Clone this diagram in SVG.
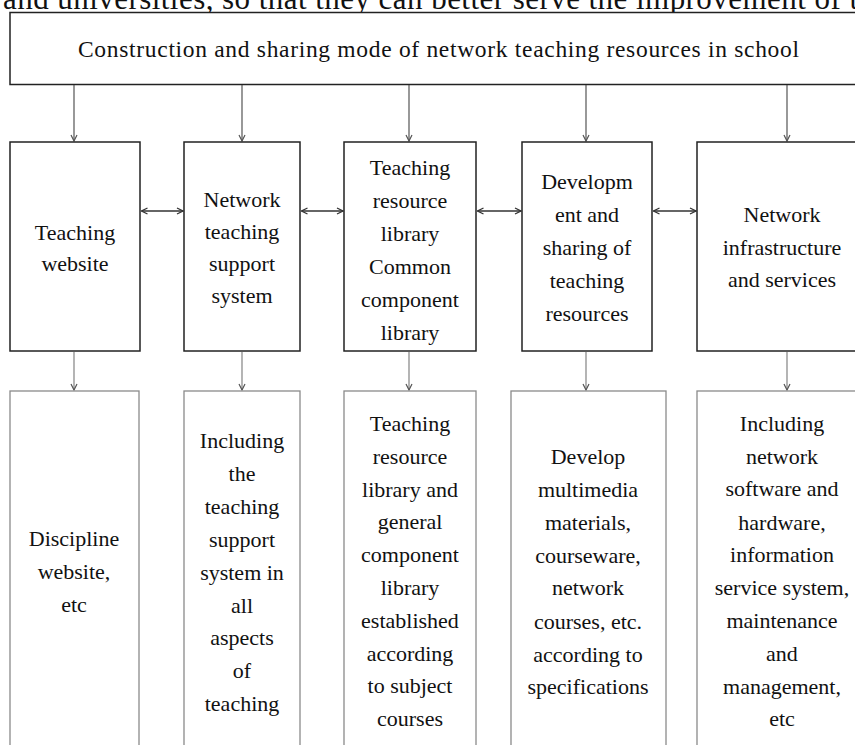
<svg xmlns="http://www.w3.org/2000/svg" width="855" height="745" viewBox="0 0 855 745">
<defs>
<style>
text{font-family:"Liberation Serif","Times New Roman",serif;font-size:22px;fill:#111;text-anchor:middle}
.top{fill:#fff;stroke:#222;stroke-width:1.5}
.mid{fill:#fff;stroke:#222;stroke-width:1.5}
.bot{fill:#fff;stroke:#8a8a8a;stroke-width:1.3}
.cd{fill:none;stroke:#444;stroke-width:1.1}
.cb{fill:none;stroke:#777;stroke-width:1.1}
.dd{fill:none;stroke:#333;stroke-width:1.3}
</style>
<marker id="ad" viewBox="0 0 8 8" refX="7.5" refY="4" markerWidth="8" markerHeight="8" orient="auto-start-reverse" markerUnits="userSpaceOnUse"><path d="M1.5,1 L7.5,4 L1.5,7" fill="none" stroke="#333" stroke-width="1.3"/></marker>
<marker id="ag" viewBox="0 0 8 8" refX="7.5" refY="4" markerWidth="8" markerHeight="8" orient="auto" markerUnits="userSpaceOnUse"><path d="M1.5,1 L7.5,4 L1.5,7" fill="none" stroke="#555" stroke-width="1.2"/></marker>
</defs>
<rect width="855" height="745" fill="#fff"/>
<text x="3" y="9" style="font-size:31px;text-anchor:start" textLength="855" lengthAdjust="spacing">and universities, so that they can better serve the improvement of t</text>

<g id="root">
<rect class="top" x="10" y="12.5" width="860" height="72"/>
<text x="78" y="57" style="font-size:23.5px;text-anchor:start" textLength="721" lengthAdjust="spacing">Construction  and sharing  mode of network teaching  resources in school</text>
</g>

<g id="connectors">
<line class="cd" x1="74" y1="85" x2="74" y2="141" marker-end="url(#ag)"/>
<line class="cd" x1="242" y1="85" x2="242" y2="141" marker-end="url(#ag)"/>
<line class="cd" x1="409" y1="85" x2="409" y2="141" marker-end="url(#ag)"/>
<line class="cd" x1="586" y1="85" x2="586" y2="141" marker-end="url(#ag)"/>
<line class="cd" x1="787" y1="85" x2="787" y2="141" marker-end="url(#ag)"/>
<line class="dd" x1="141.5" y1="211" x2="183" y2="211" marker-start="url(#ad)" marker-end="url(#ad)"/>
<line class="dd" x1="301.5" y1="211" x2="343" y2="211" marker-start="url(#ad)" marker-end="url(#ad)"/>
<line class="dd" x1="477.5" y1="211" x2="521" y2="211" marker-start="url(#ad)" marker-end="url(#ad)"/>
<line class="dd" x1="653.5" y1="211" x2="696" y2="211" marker-start="url(#ad)" marker-end="url(#ad)"/>
<line class="cb" x1="74" y1="352" x2="74" y2="390" marker-end="url(#ag)"/>
<line class="cb" x1="242" y1="352" x2="242" y2="390" marker-end="url(#ag)"/>
<line class="cb" x1="409" y1="352" x2="409" y2="390" marker-end="url(#ag)"/>
<line class="cb" x1="586" y1="352" x2="586" y2="390" marker-end="url(#ag)"/>
<line class="cb" x1="787" y1="352" x2="787" y2="390" marker-end="url(#ag)"/>
</g>

<g id="n1">
<rect class="mid" x="10" y="142" width="130" height="209"/>
<text x="75" y="240">Teaching</text>
<text x="75" y="271">website</text>
</g>
<g id="n2">
<rect class="mid" x="184" y="142" width="116" height="209"/>
<text x="242" y="207">Network</text>
<text x="242" y="239">teaching</text>
<text x="242" y="271">support</text>
<text x="242" y="303">system</text>
</g>
<g id="n3">
<rect class="mid" x="344" y="142" width="132" height="209"/>
<text x="410" y="175">Teaching</text>
<text x="410" y="208">resource</text>
<text x="410" y="241">library</text>
<text x="410" y="274">Common</text>
<text x="410" y="307">component</text>
<text x="410" y="340">library</text>
</g>
<g id="n4">
<rect class="mid" x="522" y="142" width="130" height="209"/>
<text x="587" y="189">Developm</text>
<text x="587" y="222">ent and</text>
<text x="587" y="255">sharing of</text>
<text x="587" y="288">teaching</text>
<text x="587" y="321">resources</text>
</g>
<g id="n5">
<rect class="mid" x="697" y="142" width="175" height="209"/>
<text x="782" y="222">Network</text>
<text x="782" y="255">infrastructure</text>
<text x="782" y="287">and services</text>
</g>

<g id="d1">
<rect class="bot" x="10" y="391" width="129" height="370"/>
<text x="74" y="546">Discipline</text>
<text x="74" y="579">website,</text>
<text x="74" y="612">etc</text>
</g>
<g id="d2">
<rect class="bot" x="184" y="391" width="116" height="370"/>
<text x="242" y="448">Including</text>
<text x="242" y="481">the</text>
<text x="242" y="514">teaching</text>
<text x="242" y="547">support</text>
<text x="242" y="580">system in</text>
<text x="242" y="613">all</text>
<text x="242" y="645">aspects</text>
<text x="242" y="678">of</text>
<text x="242" y="711">teaching</text>
</g>
<g id="d3">
<rect class="bot" x="344" y="391" width="132" height="370"/>
<text x="410" y="431">Teaching</text>
<text x="410" y="464">resource</text>
<text x="410" y="497">library and</text>
<text x="410" y="529">general</text>
<text x="410" y="562">component</text>
<text x="410" y="595">library</text>
<text x="410" y="628">established</text>
<text x="410" y="661">according</text>
<text x="410" y="693">to subject</text>
<text x="410" y="726">courses</text>
</g>
<g id="d4">
<rect class="bot" x="511" y="391" width="155" height="370"/>
<text x="588" y="464">Develop</text>
<text x="588" y="497">multimedia</text>
<text x="588" y="530">materials,</text>
<text x="588" y="563">courseware,</text>
<text x="588" y="595">network</text>
<text x="588" y="629">courses, etc.</text>
<text x="588" y="662">according to</text>
<text x="588" y="694">specifications</text>
</g>
<g id="d5">
<rect class="bot" x="697" y="391" width="175" height="370"/>
<text x="782" y="431">Including</text>
<text x="782" y="464">network</text>
<text x="782" y="496">software and</text>
<text x="782" y="530">hardware,</text>
<text x="782" y="562">information</text>
<text x="782" y="595">service system,</text>
<text x="782" y="628">maintenance</text>
<text x="782" y="661">and</text>
<text x="782" y="694">management,</text>
<text x="782" y="726">etc</text>
</g>
</svg>
